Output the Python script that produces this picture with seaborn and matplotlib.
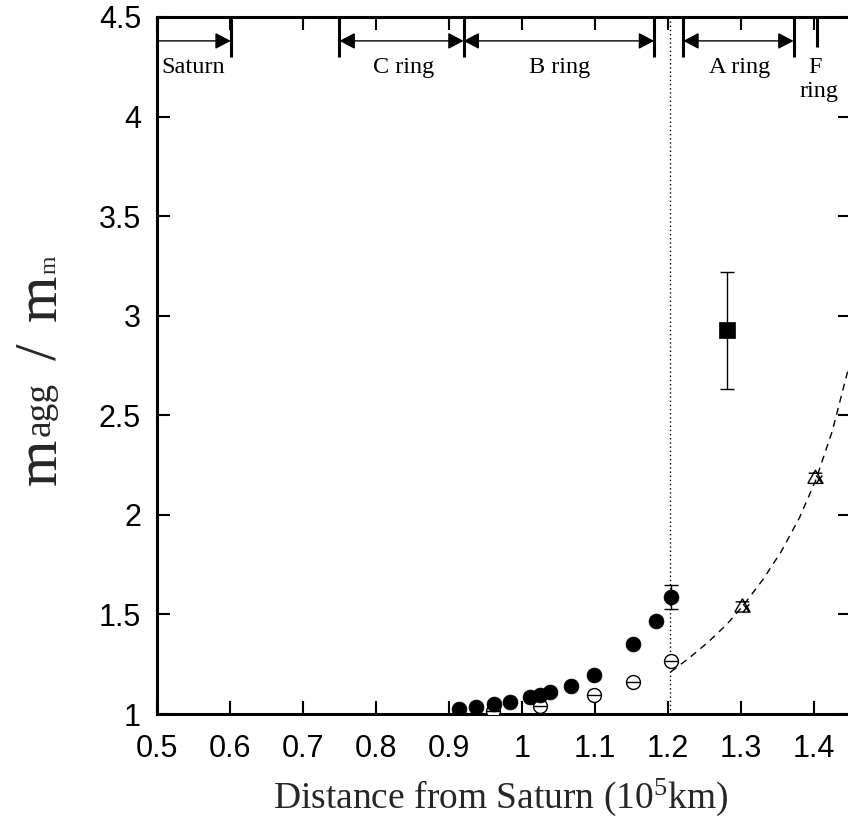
import matplotlib
matplotlib.use("Agg")
import numpy as np
import pandas as pd
import seaborn as sns
import matplotlib.pyplot as plt
from matplotlib.path import Path

# ---------------- data ----------------
x_ticks = [0.5, 0.6, 0.7, 0.8, 0.9, 1.0, 1.1, 1.2, 1.3, 1.4]
x_tick_labels = ["0.5", "0.6", "0.7", "0.8", "0.9", "1", "1.1", "1.2", "1.3", "1.4"]
y_ticks = [1, 1.5, 2, 2.5, 3, 3.5, 4, 4.5]
y_tick_labels = ["1", "1.5", "2", "2.5", "3", "3.5", "4", "4.5"]

filled_x = [0.914, 0.937, 0.961, 0.984, 1.011, 1.025, 1.038, 1.067, 1.098, 1.152, 1.183, 1.204]
filled_y = [1.025, 1.037, 1.050, 1.062, 1.084, 1.095, 1.109, 1.142, 1.196, 1.351, 1.467, 1.589]
filled_err_x = [1.204]
filled_err_y = [1.589]
filled_err_lo = [0.063]
filled_err_hi = [0.059]

open_x = [0.960, 1.025, 1.098, 1.152, 1.204]
open_y = [1.017, 1.042, 1.097, 1.159, 1.268]

tri_x = [1.302, 1.402]
tri_y = [1.544, 2.190]

square_x = [1.281]
square_y = [2.928]
square_err_lo = [0.296]
square_err_hi = [0.291]

curve_x = [1.204, 1.23, 1.255, 1.28, 1.302, 1.33, 1.355, 1.38, 1.402, 1.425, 1.451]
curve_y = [1.212, 1.284, 1.361, 1.448, 1.540, 1.675, 1.815, 1.985, 2.170, 2.420, 2.790]

roche_x = 1.203

ring_names = ["Saturn", "C ring", "B ring", "A ring"]
ring_inner = [0.5, 0.750, 0.920, 1.221]
ring_outer = [0.601, 0.920, 1.181, 1.372]
ring_label_x = [0.549, 0.838, 1.051, 1.298]
boundary_x = [0.601, 0.750, 0.920, 1.181, 1.221, 1.372]
f_ring_x = 1.404

# ---------------- style ----------------
sns.set_style("ticks")
plt.rcParams["font.family"] = ["Liberation Sans", "DejaVu Sans"]
plt.rcParams["mathtext.fontset"] = "custom"
plt.rcParams["mathtext.rm"] = "Liberation Serif"
plt.rcParams["mathtext.it"] = "Liberation Serif:italic"

W, H = 848, 821
fig = plt.figure(figsize=(W / 100, H / 100), dpi=100)
ax = fig.add_axes([157 / W, 1 - 714 / H, (851 - 157) / W, (714 - 17) / H])

ax.set_xlim(0.5, 1.4507)
ax.set_ylim(1, 4.5)
for s in ax.spines.values():
    s.set_linewidth(2.2)
    s.set_color("black")
ax.set_xticks(x_ticks)
ax.set_xticklabels(x_tick_labels)
ax.set_yticks(y_ticks)
ax.set_yticklabels(y_tick_labels)
ax.tick_params(direction="in", length=9.5, width=1.5, top=True, right=True,
               labelsize=22, colors="black")
ax.tick_params(axis="x", pad=14.5)
ax.tick_params(axis="y", pad=11.5)

# dotted vertical line
ax.axvline(roche_x, color="black", lw=1.0, ls=(0, (1, 2)), zorder=1)

# dashed curve
sns.lineplot(x=curve_x, y=curve_y, ax=ax, color="black", lw=1.0, errorbar=None,
             zorder=2)
ax.lines[-1].set_dashes([5, 4])

# open circles with horizontal line
sns.scatterplot(x=open_x, y=open_y, ax=ax, marker="o", s=100, facecolor="white",
                edgecolor="black", linewidth=1.0, zorder=3)
sns.scatterplot(x=open_x, y=open_y, ax=ax, marker="_", s=100, color="black",
                linewidth=1.0, zorder=3)

# triangles (triangle with cap and cross)
tri_verts = [(-0.5, -0.42), (0.5, -0.42), (0.0, 0.45), (-0.5, -0.42),
             (-0.45, 0.25), (0.45, 0.25),
             (0.05, -0.42), (0.45, 0.1), (0.05, 0.1), (0.45, -0.42)]
M, L = Path.MOVETO, Path.LINETO
tri_codes = [M, L, L, L, M, L, M, L, M, L]
tri_marker = Path(tri_verts, tri_codes)
sns.scatterplot(x=tri_x, y=tri_y, ax=ax, marker=tri_marker, s=120,
                facecolor="none", edgecolor="black", linewidth=1.0, zorder=3)

# filled circles
sns.scatterplot(x=filled_x, y=filled_y, ax=ax, marker="o", s=115, color="black",
                edgecolor="black", linewidth=0.5, zorder=4)
ax.errorbar(filled_err_x, filled_err_y, yerr=[filled_err_lo, filled_err_hi],
            fmt="none", ecolor="black", elinewidth=1.0, capsize=5, capthick=1.0,
            zorder=4)

# filled square
sns.scatterplot(x=square_x, y=square_y, ax=ax, marker="s", s=120, color="black",
                edgecolor="black", linewidth=0.5, zorder=4)
ax.errorbar(square_x, square_y, yerr=[square_err_lo, square_err_hi],
            fmt="none", ecolor="black", elinewidth=1.0, capsize=5, capthick=1.0,
            zorder=4)

# ring annotations
ax.vlines(boundary_x, 4.30, 4.5, color="black", lw=2.2, zorder=5)
ax.vlines([f_ring_x], 4.35, 4.5, color="black", lw=2.2, zorder=5)
arrow_y = 4.38
for i, (a, b) in enumerate(zip(ring_inner, ring_outer)):
    style = "-|>,head_length=0.95,head_width=0.5" if i == 0 else \
        "<|-|>,head_length=0.95,head_width=0.5"
    ax.annotate("", xy=(b, arrow_y), xytext=(a, arrow_y),
                arrowprops=dict(arrowstyle=style, color="black", lw=1.0,
                                shrinkA=0, shrinkB=0, mutation_scale=10))
label_font = dict(family="Liberation Serif", size=17.5, color="black")
for name, lx in zip(ring_names, ring_label_x):
    ax.text(lx, 4.244, name, ha="center", va="center", **label_font)
ax.text(f_ring_x - 0.003, 4.244, "F", ha="center", va="center", **label_font)
ax.text(f_ring_x + 0.003, 4.124, "ring", ha="center", va="center", **label_font)

# x label
fig.text(501 / W, 1 - 808 / H, "Distance from Saturn (10$^{5}$km)",
         ha="center", va="baseline", family="Liberation Serif", size=27)

# y label, composed from pieces (rotated): text, size, raise(px), gap before(px)
fig.canvas.draw()
r = fig.canvas.get_renderer()
pieces = [("m", 43, 0, 0), ("agg", 27, 6, 3), ("/", 43, 0, 22),
          ("m", 43, 0, 22), ("m", 17, 1, 1)]
ypos = 485
base_x = 56
for txt, size, shift, gap in pieces:
    ypos -= gap
    t = fig.text((base_x - shift) / W, 1 - ypos / H, txt, rotation=90,
                 rotation_mode="anchor", ha="left", va="baseline",
                 family="Liberation Serif", size=size)
    ext = t.get_window_extent(r)
    ypos -= ext.height

fig.savefig("out.png", dpi=100)
